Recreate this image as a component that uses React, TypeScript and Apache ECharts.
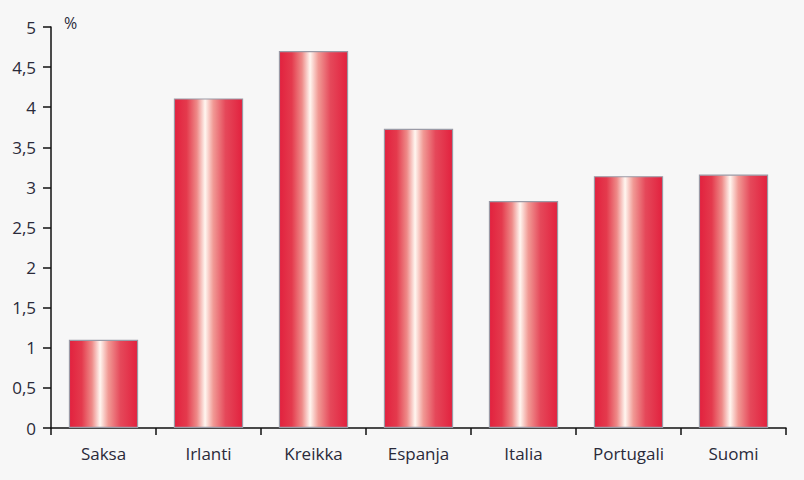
import React, { useEffect, useRef } from "react";
import * as echarts from "echarts";

const categories = ["Saksa", "Irlanti", "Kreikka", "Espanja", "Italia", "Portugali", "Suomi"];
const values = [1.1, 4.11, 4.7, 3.73, 2.83, 3.14, 3.16];
const yUnit = "%";

export default function App() {
  const ref = useRef<HTMLDivElement>(null);
  useEffect(() => {
    if (!ref.current) return;
    const chart = echarts.init(ref.current, null, { renderer: "svg" });
    const grad = new echarts.graphic.LinearGradient(0, 0, 1, 0, [
      { offset: 0, color: "#e2213e" },
      { offset: 0.18, color: "#e43a4d" },
      { offset: 0.33, color: "#ee8a88" },
      { offset: 0.45, color: "#fff6f0" },
      { offset: 0.57, color: "#f19a95" },
      { offset: 0.75, color: "#e5485a" },
      { offset: 1, color: "#e2213e" },
    ]);
    chart.setOption({
      animation: false,
      backgroundColor: "#f7f7f7",
      textStyle: { fontFamily: "Open Sans" },
      grid: { left: 51, right: 18, top: 27, bottom: 52, containLabel: false },
      xAxis: {
        type: "category",
        data: categories,
        axisLine: { lineStyle: { color: "#111", width: 1.5 } },
        axisTick: { show: true, length: 7, lineStyle: { color: "#111", width: 1.5 } },
        axisLabel: { color: "#2a2a3a", fontSize: 17, margin: 17 },
      },
      yAxis: {
        type: "value",
        min: 0,
        max: 5,
        interval: 0.5,
        splitLine: { show: false },
        axisLine: { show: true, lineStyle: { color: "#111", width: 1.5 } },
        axisTick: { show: true, length: 8, lineStyle: { color: "#111", width: 1.5 } },
        axisLabel: {
          color: "#2a2a3a",
          fontSize: 17,
          margin: 15,
          formatter: (v: number) => String(v).replace(".", ","),
        },
      },
      graphic: [
        {
          type: "text",
          left: 64,
          top: 15,
          style: { text: yUnit, fontSize: 16, fill: "#2a2a3a", fontFamily: "Open Sans" },
        },
      ],
      series: [
        {
          type: "bar",
          data: values,
          barWidth: "66%",
          itemStyle: { color: grad, borderColor: "#9a9aa6", borderWidth: 1.2 },
        },
      ],
    });
    return () => chart.dispose();
  }, []);
  return (
    <div
      ref={ref}
      style={{ position: "fixed", left: 0, top: 0, width: 804, height: 480 }}
    />
  );
}
